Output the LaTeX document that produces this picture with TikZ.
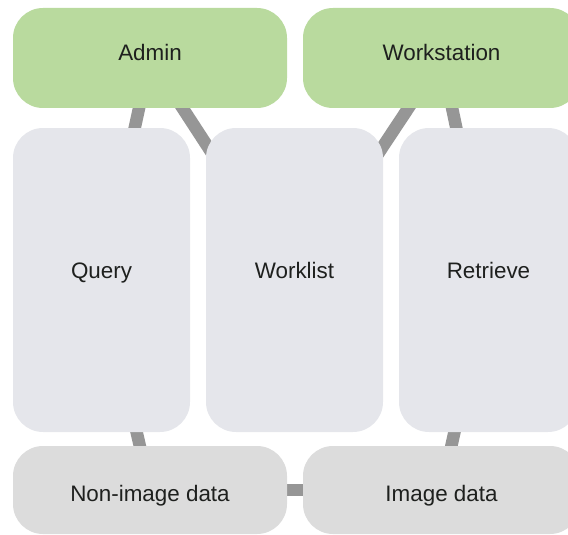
\documentclass[tikz,border=0pt]{standalone}
\usepackage{fontspec}
\setmainfont{Liberation Sans}
\usetikzlibrary{backgrounds}

\definecolor{topgreen}{RGB}{185,218,158}
\definecolor{midgrey}{RGB}{229,230,235}
\definecolor{lowgrey}{RGB}{220,220,220}
\definecolor{linkgrey}{RGB}{150,150,150}
\definecolor{labeltext}{RGB}{30,32,30}

\tikzset{
  box/.style={rectangle, rounded corners=30pt, inner sep=0pt, outer sep=0pt,
    text=labeltext, font=\fontsize{22.4}{26}\selectfont, align=center},
  topbox/.style={box, fill=topgreen, minimum height=100pt, text height=16pt, text depth=11pt},
  midbox/.style={box, fill=midgrey, minimum height=304pt, text height=16pt, text depth=20pt},
  lowbox/.style={box, fill=lowgrey, minimum height=88pt, text height=22pt, text depth=0pt},
  link/.style={draw=linkgrey, line width=12.5pt},
}

\begin{document}
\begin{tikzpicture}[x=1pt, y=-1pt]
  \useasboundingbox (0,0) rectangle (568,535);
  \clip (0,0) rectangle (568,535);

  % top row
  \node[topbox, minimum width=274pt] (admin) at (150,58) {Admin};
  \node[topbox, minimum width=277pt] (workstation) at (441.5,58) {Workstation};

  % middle row
  \node[midbox, minimum width=177pt] (query) at (101.5,280) {Query};
  \node[midbox, minimum width=177pt] (worklist) at (294.5,280) {Worklist};
  \node[midbox, minimum width=179pt] (retrieve) at (488.5,280) {Retrieve};

  % bottom row
  \node[lowbox, minimum width=274pt] (nonimage) at (150,490) {Non-image data};
  \node[lowbox, minimum width=277pt] (imagedata) at (441.5,490) {Image data};

  % links run centre to centre, behind the boxes
  \begin{pgfonlayer}{background}
    \draw[link] (admin.center) -- (query.center);
    \draw[link] (admin.center) -- (worklist.center);
    \draw[link] (workstation.center) -- (worklist.center);
    \draw[link] (workstation.center) -- (retrieve.center);
    \draw[link] (query.center) -- (nonimage.center);
    \draw[link] (retrieve.center) -- (imagedata.center);
    \draw[link] (nonimage.center) -- (imagedata.center);
  \end{pgfonlayer}
\end{tikzpicture}
\end{document}
